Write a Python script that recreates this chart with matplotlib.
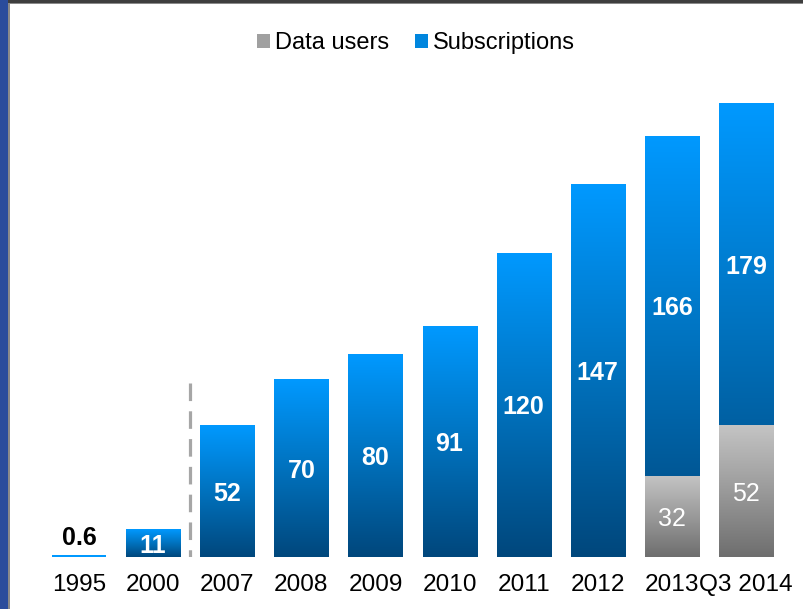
import numpy as np
import matplotlib
matplotlib.use("Agg")
import matplotlib.pyplot as plt
from matplotlib.patches import Rectangle
from matplotlib.colors import LinearSegmentedColormap

plt.rcParams['font.family'] = ['Liberation Sans', 'DejaVu Sans']

# ---- data ----
categories = ['1995', '2000', '2007', '2008', '2009', '2010', '2011', '2012', '2013', 'Q3 2014']
subscriptions = [0.6, 11, 52, 70, 80, 91, 120, 147, 166, 179]
data_users = [0, 0, 0, 0, 0, 0, 0, 0, 32, 52]
sub_labels = ['0.6', '11', '52', '70', '80', '91', '120', '147', '166', '179']
du_labels = ['', '', '', '', '', '', '', '', '32', '52']
separator_pos = 1.5
separator_top = 68.6

# ---- style ----
blue_cmap = LinearSegmentedColormap.from_list('b', ['#00477C', '#0072BE', '#0099FF'])
gray_cmap = LinearSegmentedColormap.from_list('g', ['#6E6E6E', '#9A9A9A', '#C4C4C4'])
FS = 17
FS_TICK = 17.6
FS_LAB = 18

fig = plt.figure(figsize=(8.04, 6.09), dpi=100)
ax = fig.add_axes([42 / 804, 52 / 609, 741 / 804, 487 / 609])

x = np.arange(len(categories))
width = 0.73
grad = np.linspace(0, 1, 256).reshape(-1, 1)


def gradient_bars(bars, cmap, z):
    for p in bars:
        h = p.get_height()
        if h <= 2:
            continue
        x0, y0, w = p.get_x(), p.get_y(), p.get_width()
        im = ax.imshow(grad, extent=[x0, x0 + w, y0, y0 + h], origin='lower',
                       cmap=cmap, aspect='auto', zorder=z, interpolation='bilinear')
        im.set_clip_path(p)
        p.set_facecolor('none')
        p.set_edgecolor('none')


b_sub = ax.bar(x, subscriptions, width=width, color='#0099FF', zorder=2, linewidth=0)
b_du = ax.bar(x, data_users, width=width, color='#999999', zorder=3, linewidth=0)
gradient_bars(b_sub, blue_cmap, 2)
gradient_bars(b_du, gray_cmap, 3)

# labels
for i, (s, d, sl, dl) in enumerate(zip(subscriptions, data_users, sub_labels, du_labels)):
    if s < 5:
        ax.annotate(sl, (x[i], s), xytext=(0, 7.5), textcoords='offset points',
                    ha='center', va='baseline', fontsize=FS_LAB, fontweight='bold', color='black', zorder=5)
    else:
        ax.text(x[i], (s + d) / 2, sl, ha='center', va='center_baseline', fontsize=FS_LAB,
                fontweight='bold', color='white', zorder=5)
    if d > 0:
        ax.text(x[i], d / 2, dl, ha='center', va='center_baseline', fontsize=FS_LAB,
                color='white', zorder=5)

# separator
ax.plot([separator_pos, separator_pos], [separator_top, 0], color='#A6A6A6', lw=2.3,
        dashes=(5.5, 3.2), zorder=1, solid_capstyle='butt', dash_capstyle='butt')

ax.set_xlim(-0.5, len(categories) - 0.5)
ax.set_ylim(0, 192)
ax.set_xticks(x)
ax.set_xticklabels(categories, fontsize=FS_TICK)
ax.tick_params(axis='x', length=0, pad=12)
ax.set_yticks([])
for sp in ax.spines.values():
    sp.set_visible(False)

# legend
handles = [Rectangle((0, 0), 1, 1, facecolor='#A0A0A0', edgecolor='none'),
           Rectangle((0, 0), 1, 1, facecolor='#0086DE', edgecolor='none')]
fig.legend(handles, ['Data users', 'Subscriptions'], loc='center',
           bbox_to_anchor=(416 / 804, 1 - 43 / 609), ncol=2, frameon=False,
           fontsize=FS, handlelength=0.55, handleheight=0.55, handletextpad=0.2,
           columnspacing=1.1, borderpad=0)

# frame decorations
W, H = 804, 609
fig.add_artist(Rectangle((0, 0), 8.3 / W, 1, transform=fig.transFigure,
                         facecolor='#2A4C9C', edgecolor='none', zorder=10))
fig.add_artist(Rectangle((8.3 / W, 0), 1.8 / W, 1, transform=fig.transFigure,
                         facecolor='#8A8A8A', edgecolor='none', zorder=10))
fig.add_artist(Rectangle((8.3 / W, 1 - 3.3 / H), 1, 3.3 / H, transform=fig.transFigure,
                         facecolor='#3E3E3E', edgecolor='none', zorder=10))
fig.add_artist(Rectangle((10 / W, 1 - 4.4 / H), 1, 1.1 / H, transform=fig.transFigure,
                         facecolor='#8A8A8A', edgecolor='none', zorder=10))

fig.savefig('out.png', dpi=100)
